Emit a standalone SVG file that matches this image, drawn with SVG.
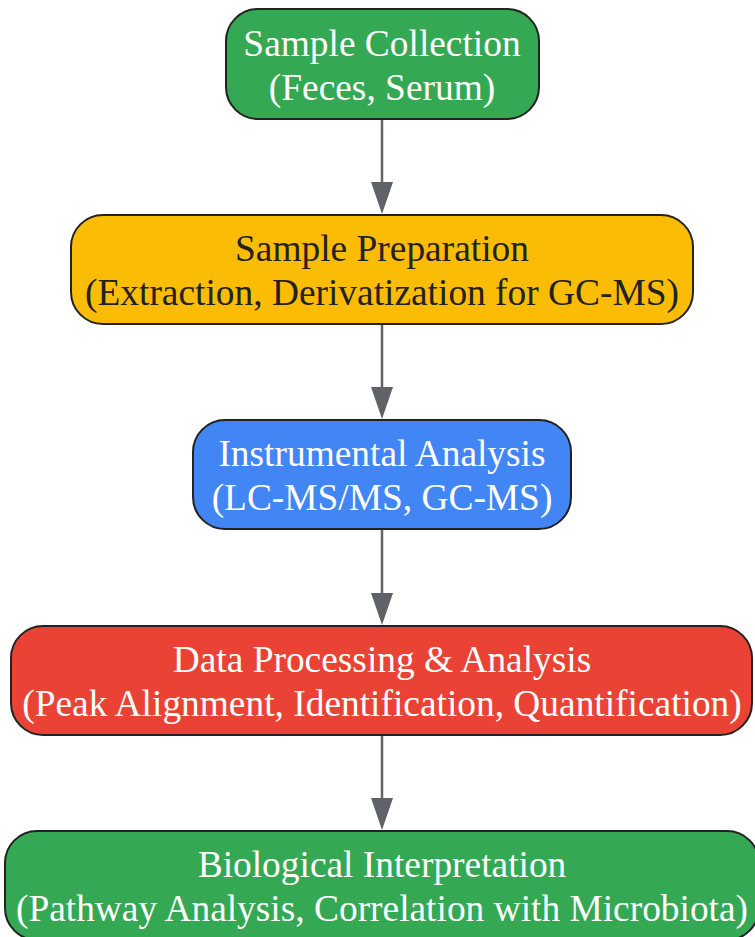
<svg xmlns="http://www.w3.org/2000/svg" width="755" height="937" viewBox="0 0 755 937">
<style>
.box{stroke:#222;stroke-width:2}
.t{font-family:"Liberation Serif","Times New Roman",serif;font-size:37.4px;text-anchor:middle}
.w{fill:#fff}
.d{fill:#222}
.edge{stroke:#5f6368;stroke-width:2.5;fill:none}
</style>
<defs>
<marker id="ah" markerUnits="userSpaceOnUse" markerWidth="32" markerHeight="22" refX="22" refY="11" orient="auto" viewBox="0 0 32 22">
<path d="M0,0 L32,11 L0,22 Z" fill="#5f6368"/>
</marker>
</defs>
<rect width="755" height="937" fill="#fff"/>
<g id="connectors">
<line class="edge" x1="382" y1="120" x2="382" y2="204" marker-end="url(#ah)"/>
<line class="edge" x1="382" y1="325" x2="382" y2="409" marker-end="url(#ah)"/>
<line class="edge" x1="382" y1="530" x2="382" y2="615" marker-end="url(#ah)"/>
<line class="edge" x1="382" y1="736" x2="382" y2="820" marker-end="url(#ah)"/>
</g>
<g id="n1">
<rect class="box" x="226" y="9" width="313" height="110" rx="32" fill="#34A853"/>
<text class="t w" x="382" y="56">Sample Collection</text>
<text class="t w" x="382" y="100">(Feces, Serum)</text>
</g>
<g id="n2">
<rect class="box" x="71" y="215" width="622" height="109" rx="32" fill="#FBBC05"/>
<text class="t d" x="382" y="261">Sample Preparation</text>
<text class="t d" x="382" y="305">(Extraction, Derivatization for GC-MS)</text>
</g>
<g id="n3">
<rect class="box" x="193" y="420" width="378" height="109" rx="32" fill="#4285F4"/>
<text class="t w" x="382" y="466">Instrumental Analysis</text>
<text class="t w" x="382" y="510">(LC-MS/MS, GC-MS)</text>
</g>
<g id="n4">
<rect class="box" x="11" y="626" width="741" height="109" rx="32" fill="#EA4335"/>
<text class="t w" x="382" y="672">Data Processing &amp; Analysis</text>
<text class="t w" x="382" y="716">(Peak Alignment, Identification, Quantification)</text>
</g>
<g id="n5">
<rect class="box" x="5" y="831" width="754" height="109" rx="32" fill="#34A853"/>
<text class="t w" x="382" y="877">Biological Interpretation</text>
<text class="t w" x="382" y="921">(Pathway Analysis, Correlation with Microbiota)</text>
</g>
</svg>
